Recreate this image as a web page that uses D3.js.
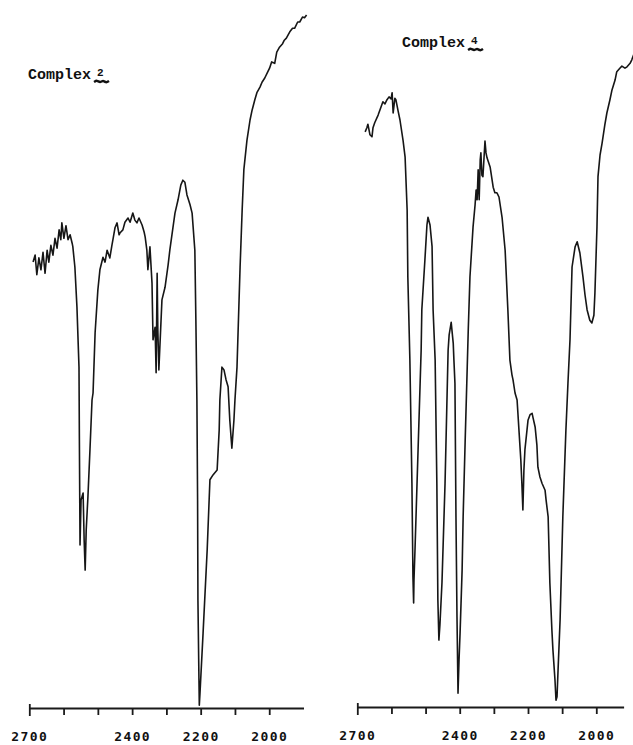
<!DOCTYPE html>
<html>
<head>
<meta charset="utf-8">
<script src="https://cdn.jsdelivr.net/npm/d3@7"></script>
<style>
  body { margin: 0; background: #fff; }
  svg { display: block; }
  .trace { fill: none; stroke: #161616; stroke-width: 1.6; stroke-linejoin: round; }
  .axis path, .axis line { stroke: #1a1a1a; stroke-width: 1.8; }
  .axis text { font-family: "DejaVu Sans Mono", monospace; font-weight: bold; font-size: 13px; fill: #111; letter-spacing: 1.4px; }
  .title { font-family: "Liberation Mono", monospace; font-weight: bold; font-size: 15px; fill: #111; }
  .num { font-family: "Liberation Mono", monospace; font-weight: bold; font-size: 11px; fill: #111; }
</style>
</head>
<body>
<svg width="633" height="745"></svg>
<script>
// wavenumbers (cm-1) and transmittance (arbitrary %)

// Complex 2
const wn2 = [2689, 2683, 2678, 2672, 2666, 2660, 2654, 2648, 2643, 2637, 2631, 2625, 2619, 2613,
  2608, 2605, 2599, 2593, 2587, 2581, 2575, 2573, 2567, 2561, 2555, 2554, 2552, 2549, 2543, 2540,
  2537, 2534, 2529, 2523, 2517, 2514, 2508, 2500, 2494, 2485, 2479, 2473, 2468, 2465, 2459, 2456,
  2450, 2444, 2438, 2435, 2427, 2421, 2412, 2406, 2398, 2392, 2386, 2380, 2371, 2365, 2362, 2357,
  2354, 2348, 2342, 2339, 2333, 2330, 2327, 2325, 2322, 2313, 2304, 2295, 2290, 2281, 2275, 2266,
  2258, 2252, 2246, 2240, 2231, 2225, 2217, 2214, 2211, 2209, 2208, 2205, 2204, 2202, 2193, 2181,
  2173, 2164, 2152, 2146, 2144, 2138, 2132, 2126, 2120, 2115, 2109, 2103, 2100, 2094, 2088, 2085,
  2079, 2074, 2065, 2056, 2050, 2042, 2036, 2027, 2021, 2013, 2004, 1999, 1993, 1984, 1978, 1970,
  1961, 1956, 1950, 1940, 1932, 1926, 1917, 1911, 1903, 1897, 1891];
const tr2 = [63.7, 64.7, 61.9, 64.3, 62.6, 65.1, 62.1, 65.4, 63.7, 66.1, 64.7, 67.1, 65.7, 68.3,
  66.9, 69.3, 67.1, 68.9, 66.9, 67.6, 66.4, 65.9, 63.0, 57.3, 48.7, 39.3, 23.3, 29.7, 30.7, 24.0,
  19.7, 25.4, 30.1, 36.9, 44.0, 45.0, 53.6, 59.7, 62.6, 64.4, 63.7, 65.4, 64.7, 64.3, 66.1, 66.9,
  68.6, 69.3, 67.6, 67.9, 68.3, 69.4, 70.0, 69.4, 70.7, 69.7, 69.3, 70.0, 69.0, 68.0, 67.3, 65.4,
  62.6, 65.9, 60.7, 52.6, 54.4, 47.9, 62.1, 54.0, 48.3, 58.3, 60.1, 63.3, 65.4, 68.6, 70.7, 72.6,
  74.7, 75.4, 75.1, 73.3, 71.9, 70.7, 65.4, 55.4, 44.0, 29.7, 15.4, 4.0, 0.4, 2.1, 10.7, 22.6,
  32.6, 33.3, 34.0, 39.7, 44.0, 48.7, 48.3, 46.9, 45.9, 41.1, 37.1, 41.1, 44.0, 48.7, 58.3, 63.0,
  71.1, 76.9, 81.1, 84.0, 85.4, 86.9, 87.9, 88.7, 89.4, 90.0, 90.9, 91.4, 92.3, 92.1, 93.7, 94.4,
  94.9, 95.4, 95.7, 96.6, 97.1, 97.1, 98.0, 98.0, 98.7, 98.6, 99.0];

// Complex 4
const wn4 = [2677, 2672, 2669, 2663, 2657, 2654, 2649, 2639, 2634, 2625, 2619, 2613, 2607, 2601,
  2598, 2595, 2590, 2587, 2581, 2575, 2566, 2560, 2554, 2552, 2546, 2543, 2540, 2537, 2535, 2534,
  2531, 2522, 2513, 2511, 2502, 2496, 2493, 2487, 2481, 2478, 2472, 2467, 2464, 2461, 2458, 2452,
  2443, 2434, 2431, 2425, 2419, 2417, 2414, 2411, 2408, 2405, 2402, 2399, 2393, 2390, 2384, 2378,
  2375, 2370, 2361, 2355, 2352, 2349, 2346, 2343, 2340, 2338, 2335, 2332, 2326, 2323, 2320, 2311,
  2302, 2297, 2291, 2285, 2276, 2267, 2259, 2253, 2247, 2244, 2238, 2232, 2226, 2221, 2218, 2215,
  2212, 2209, 2200, 2194, 2188, 2185, 2179, 2174, 2171, 2165, 2159, 2150, 2147, 2141, 2136, 2130,
  2127, 2121, 2118, 2115, 2112, 2106, 2098, 2089, 2083, 2077, 2071, 2062, 2056, 2048, 2039, 2033,
  2027, 2019, 2013, 2007, 2004, 1998, 1995, 1989, 1983, 1975, 1969, 1960, 1954, 1945, 1940, 1931,
  1925, 1916, 1910, 1901, 1896, 1890];
const tr4 = [82.3, 82.9, 83.4, 81.9, 81.6, 82.9, 83.6, 84.7, 85.4, 86.6, 86.3, 86.9, 87.3, 87.0,
  87.9, 85.0, 87.1, 86.9, 85.4, 84.0, 81.1, 78.7, 71.1, 61.6, 49.7, 41.0, 32.1, 18.7, 15.0, 18.3,
  22.6, 36.9, 51.1, 56.9, 64.0, 69.0, 70.1, 69.0, 65.9, 56.9, 49.7, 32.1, 15.4, 9.7, 11.9, 17.9,
  32.1, 51.1, 53.3, 55.1, 52.1, 49.7, 46.4, 27.3, 13.0, 2.1, 6.9, 10.7, 19.7, 27.3, 38.3, 48.7,
  54.0, 61.6, 68.7, 71.9, 74.0, 72.6, 76.9, 72.6, 78.3, 79.3, 76.1, 75.9, 81.0, 79.3, 78.6, 77.3,
  74.4, 73.6, 73.6, 73.0, 70.1, 65.4, 56.9, 49.7, 47.6, 46.9, 45.0, 44.0, 39.3, 35.4, 32.1, 28.3,
  34.0, 36.9, 41.1, 41.9, 42.1, 41.4, 40.1, 37.6, 34.4, 33.0, 32.1, 31.1, 29.7, 27.3, 17.9, 11.1,
  8.3, 4.0, 1.1, 1.6, 5.4, 12.6, 27.3, 39.7, 46.4, 52.6, 63.0, 65.9, 66.6, 65.0, 61.6, 59.0,
  56.9, 55.4, 55.0, 56.1, 59.3, 68.7, 75.9, 79.0, 80.7, 83.3, 85.0, 86.9, 88.3, 89.7, 90.9, 91.4,
  91.7, 91.4, 91.6, 92.1, 92.6, 93.4];

const tickValues = [2700, 2600, 2500, 2400, 2300, 2200, 2100, 2000];
const tickLabels = [2700, 2400, 2200, 2000];

const svg = d3.select("svg");

const y = d3.scaleLinear().domain([0, 100]).range([708, 8]);

const panels = [
  { wn: wn2, tr: tr2, domain: [2700, 1900], range: [29.3, 303.5], axisY: 708,
    label: "Complex", num: "2", lx: 28, ly: 79 },
  { wn: wn4, tr: tr4, domain: [2700, 1920], range: [357.3, 623.6], axisY: 707,
    label: "Complex", num: "4", lx: 402, ly: 47 }
];

panels.forEach(function(p) {
  let x = d3.scaleLinear().domain(p.domain).range(p.range);

  // spectrum trace
  let pts = p.wn.map(function(w, i) { return [w, p.tr[i]]; });
  svg.append("path")
    .datum(pts)
    .attr("class", "trace")
    .attr("d", d3.line()
      .x(function(d) { return x(d[0]); })
      .y(function(d) { return y(d[1]); }));

  // wavenumber axis
  let axis = d3.axisBottom(x)
    .tickValues(tickValues)
    .tickSize(7)
    .tickSizeOuter(0)
    .tickPadding(17)
    .tickFormat(function(d) { return tickLabels.indexOf(d) >= 0 ? d : ""; });

  let g = svg.append("g")
    .attr("class", "axis")
    .attr("transform", "translate(0," + p.axisY + ")")
    .call(axis);

  // taller end mark at 2700
  g.selectAll(".tick").filter(function(d) { return d === 2700; })
    .select("line").attr("y1", -4).attr("y2", 8);

  // title with underlined compound number
  let t = svg.append("text")
    .attr("class", "title")
    .attr("x", p.lx)
    .attr("y", p.ly)
    .text(p.label);
  let tw = t.node().getComputedTextLength();
  let nx = p.lx + tw + 6;
  svg.append("text")
    .attr("class", "num")
    .attr("x", nx)
    .attr("y", p.ly - 3)
    .text(p.num);
  svg.append("path")
    .attr("d", d3.line().curve(d3.curveBasis)(
      [[nx - 3, p.ly + 3], [nx, p.ly + 1], [nx + 3, p.ly + 4], [nx + 6, p.ly + 1], [nx + 9, p.ly + 4], [nx + 12, p.ly + 2]]))
    .attr("fill", "none")
    .attr("stroke", "#111")
    .attr("stroke-width", 2.4);
});
</script>
</body>
</html>
